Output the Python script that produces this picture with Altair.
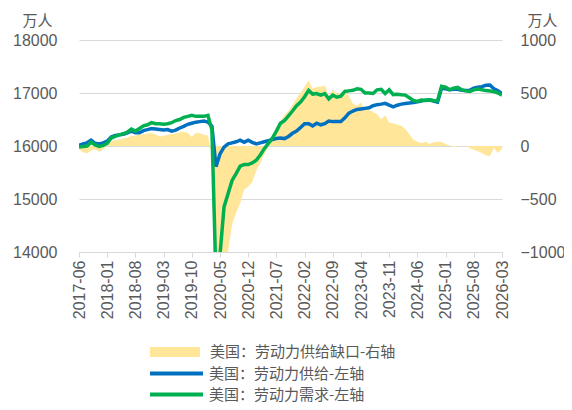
import altair as alt
import pandas as pd

MONTHS = [str(p) for p in pd.period_range("2017-06", "2026-03", freq="M")]
TICK_LABELS = MONTHS[::7]

SUPPLY = [16010, 16040, 16060, 16110, 16050, 16040, 16060, 16090, 16170, 16200,
          16210, 16220, 16250, 16280, 16250, 16250, 16290, 16310, 16330, 16320,
          16310, 16300, 16310, 16280, 16300, 16340, 16370, 16410, 16430, 16450,
          16460, 16470, 16450, 16370, 15610, 15850, 15980, 16040, 16060, 16080,
          16110, 16070, 16110, 16070, 16040, 16060, 16080, 16100, 16120, 16140,
          16150, 16140, 16180, 16240, 16280, 16350, 16420, 16420, 16380, 16430,
          16400, 16420, 16470, 16460, 16460, 16460, 16530, 16620, 16660, 16690,
          16700, 16710, 16720, 16760, 16780, 16790, 16805, 16770, 16740, 16770,
          16790, 16800, 16810, 16820, 16836, 16850, 16865, 16868, 16850, 16830,
          17090, 17080, 17060, 17070, 17070, 17050, 17045, 17050, 17090, 17110,
          17120, 17145, 17150, 17080, 17040, 16990]

DEMAND = [15980, 15990, 16000, 16070, 16020, 15990, 16010, 16050, 16150, 16180,
          16210, 16230, 16260, 16320, 16280, 16330, 16380, 16400, 16440, 16420,
          16420, 16410, 16420, 16440, 16480, 16500, 16540, 16560, 16580, 16560,
          16560, 16560, 16580, 16300, 13500, 13950, 14850, 15100, 15350, 15480,
          15620, 15650, 15650, 15680, 15730, 15830, 15950, 16050, 16150, 16280,
          16430, 16480, 16570, 16660, 16760, 16830, 16930, 17050, 16980, 16990,
          16960, 16990, 16890, 16960, 16920, 16940, 17030, 17040, 17050, 17080,
          17070, 17000, 17000, 16990, 17060, 17070, 16990, 17060, 16970, 16975,
          16965, 16960, 16910, 16860, 16840, 16868, 16860, 16870, 16860, 16855,
          17125, 17110, 17060, 17090, 17105, 17060, 17040, 17030, 17060, 17075,
          17060, 17045, 17040, 17025, 17000, 16960]

GAP = [-30, -60, -70, -40, -30, -55, -30, 0, 40, 60,
       60, 70, 80, 95, 100, 105, 110, 120, 120, 110,
       90, 95, 105, 110, 120, 130, 135, 125, 85, 125,
       120, 105, 100, -100, -2500, -1600, -1150, -990, -740, -630,
       -540, -410, -385, -340, -230, -160, -80, -10, 80, 160,
       230, 290, 330, 390, 450, 500, 560, 620, 540, 560,
       560, 570, 470, 530, 490, 500, 540, 470, 400, 380,
       410, 340, 340, 320, 300, 250, 290, 220, 214, 200,
       190, 160, 110, 60, 40, 25, 40, 20, 35, 40,
       40, 20, 5, -10, -5, 0, 0, -20, -35, -50,
       -65, -90, -95, -20, -65, -25]

GAP_NAME = "美国：劳动力供给缺口-右轴"
SUPPLY_NAME = "美国：劳动力供给-左轴"
DEMAND_NAME = "美国：劳动力需求-左轴"
UNIT = "万人"

df = pd.DataFrame({
    "idx": list(range(len(MONTHS))),
    "month": MONTHS,
    "supply": SUPPLY,
    "demand": DEMAND,
    "gap": GAP,
    "gname": [GAP_NAME] * len(MONTHS),
    "sname": [SUPPLY_NAME] * len(MONTHS),
    "dname": [DEMAND_NAME] * len(MONTHS),
})

GREY = "#595959"
FONT = "Liberation Sans"
CJK = "Noto Sans CJK SC"
LEG_FS = 15

label_array = "[" + ",".join("'%s'" % t for t in TICK_LABELS) + "]"

x = alt.X(
    "idx:Q",
    scale=alt.Scale(domain=[0, len(MONTHS) - 1], nice=False, zero=False),
    axis=alt.Axis(
        values=list(range(0, len(MONTHS), 7)),
        labelExpr=label_array + "[round(datum.value/7)]",
        labelAngle=-90, labelAlign="right", labelBaseline="middle",
        labelFontSize=16, labelColor=GREY, labelFont=FONT, labelPadding=3,
        tickSize=5, tickColor="#d9d9d9", domainColor="#d9d9d9",
        grid=False, title=None, labelOverlap=False,
    ),
)

left_axis = alt.Axis(
    orient="left", values=[14000, 15000, 16000, 17000, 18000], format="d",
    labelFontSize=16, labelColor=GREY, labelFont=FONT, labelPadding=22,
    ticks=False, domain=False, grid=True, gridColor="#d9d9d9",
    title=UNIT, titleAngle=0, titleX=-57, titleY=-20, titleAlign="left",
    titleBaseline="middle", titleFont=CJK, titleFontSize=15,
    titleFontWeight="normal", titleColor=GREY,
)
left_scale = alt.Scale(domain=[14000, 18000], nice=False, zero=False)

area = alt.Chart(df).mark_area(color="#FFE699", clip=True).encode(
    x=x,
    y=alt.Y(
        "gap:Q",
        scale=alt.Scale(domain=[-1000, 1000], nice=False),
        axis=alt.Axis(
            orient="right", values=[-1000, -500, 0, 500, 1000], format="d",
            labelFontSize=16, labelColor=GREY, labelFont=FONT, labelPadding=18,
            ticks=False, domain=False, grid=False,
            title=UNIT, titleAngle=0, titleX=25, titleY=-20, titleAlign="left",
            titleBaseline="middle", titleFont=CJK, titleFontSize=15,
            titleFontWeight="normal", titleColor=GREY,
        ),
    ),
    y2=alt.datum(0),
    fill=alt.Fill(
        "gname:N",
        scale=alt.Scale(domain=[GAP_NAME], range=["#FFE699"]),
        legend=alt.Legend(
            title=None, orient="none", legendX=71, legendY=287,
            symbolType="M-1,-0.2H1V0.2H-1Z", symbolSize=2500,
            symbolStrokeWidth=0, symbolOpacity=1, labelLimit=400,
            labelFont=CJK, labelFontSize=LEG_FS, labelColor=GREY, labelOffset=10,
        ),
    ),
)


def line_layer(field, name_field, name, color, ly):
    return alt.Chart(df).mark_line(strokeWidth=3.5, clip=True).encode(
        x=x,
        y=alt.Y(field + ":Q", scale=left_scale, axis=left_axis),
        stroke=alt.Stroke(
            name_field + ":N",
            scale=alt.Scale(domain=[name], range=[color]),
            legend=alt.Legend(
                title=None, orient="none", legendX=69, legendY=ly,
                symbolType="stroke", symbolSize=2809, symbolStrokeWidth=4,
                labelLimit=400,
                labelFont=CJK, labelFontSize=LEG_FS, labelColor=GREY, labelOffset=4,
            ),
        ),
        order=alt.Order("idx:Q"),
    )


supply_line = line_layer("supply", "sname", SUPPLY_NAME, "#0070C0", 305)
demand_line = line_layer("demand", "dname", DEMAND_NAME, "#00B050", 326)

lines = alt.layer(supply_line, demand_line).resolve_scale(stroke="independent")

chart = alt.layer(area, lines).resolve_scale(
    y="independent", stroke="independent"
).properties(
    width=423, height=212,
    autosize=alt.AutoSizeParams(type="none"),
    padding={"left": 71, "top": 32, "right": 62, "bottom": 150},
).configure_view(stroke=None)

chart.save("out.html", embed_options={"renderer": "svg", "actions": False})
